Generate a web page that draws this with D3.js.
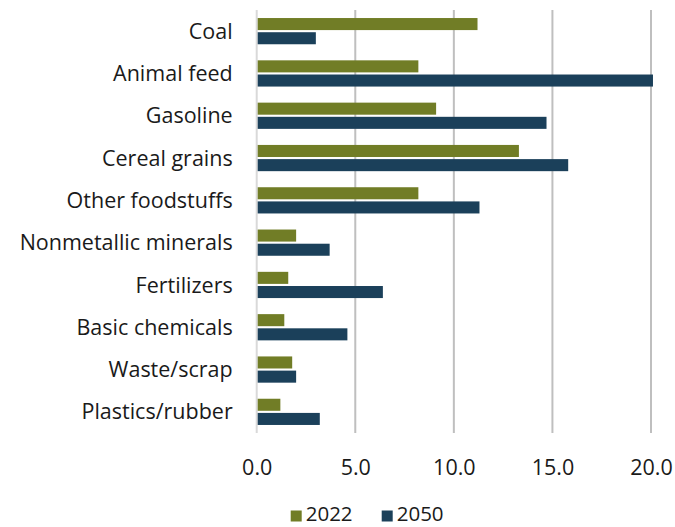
<!DOCTYPE html>
<html><head><meta charset="utf-8">
<script src="https://cdn.jsdelivr.net/npm/d3@7"></script>
<style>body{margin:0;background:#fff}svg{display:block}text{font-family:"Open Sans",sans-serif;fill:#1a1a1a}</style>
</head><body><svg id="c" width="675" height="527"></svg>
<script>
const categories = ["Coal","Animal feed","Gasoline","Cereal grains","Other foodstuffs","Nonmetallic minerals","Fertilizers","Basic chemicals","Waste/scrap","Plastics/rubber"];
const series = ["2022","2050"];
const values2022 = [11.2,8.2,9.1,13.3,8.2,2.0,1.6,1.4,1.8,1.2];
const values2050 = [3.0,20.1,14.7,15.8,11.3,3.7,6.4,4.6,2.0,3.2];
const xTicks = [0,5,10,15,20];
const colors = ["#717d26","#1b405a"];

const svg = d3.select("#c");
const m = {l:256.7, r:24, t:10, b:94};
const W = 675, H = 527;
const x = d3.scaleLinear().domain([0,20]).range([m.l, 651]);
const y = d3.scaleBand().domain(categories).range([m.t, H-m.b]).paddingInner(0.38).paddingOuter(0.19);
const ys = d3.scaleBand().domain(series).range([0, y.bandwidth()]).paddingInner(0.15);

// gridlines
svg.append("g").selectAll("line").data(xTicks.slice(1)).join("line")
  .attr("x1",d=>x(d)).attr("x2",d=>x(d)).attr("y1",m.t).attr("y2",H-m.b)
  .attr("stroke","#bfbfbf").attr("stroke-width",2);
svg.append("line").attr("x1",x(0)).attr("x2",x(0)).attr("y1",m.t).attr("y2",H-m.b)
  .attr("stroke","#d9d9d9").attr("stroke-width",2);

const data = categories.map((c,i)=>({c, v:[values2022[i], values2050[i]]}));
const g = svg.append("g").selectAll("g").data(data).join("g")
  .attr("transform",d=>`translate(0,${y(d.c)})`);
g.selectAll("rect").data(d=>d.v.map((v,j)=>({v,s:series[j],j}))).join("rect")
  .attr("x",x(0)+1).attr("y",d=>ys(d.s)).attr("height",ys.bandwidth())
  .attr("width",d=>x(d.v)-x(0)-1).attr("fill",d=>colors[d.j]);

// category labels
svg.append("g").selectAll("text").data(categories).join("text")
  .attr("x",232.7).attr("y",d=>y(d)+y.bandwidth()/2+7.6)
  .attr("text-anchor","end").attr("font-size",21.5).text(d=>d);

// x axis
const xa = svg.append("g").attr("transform",`translate(0,${H-m.b})`)
  .call(d3.axisBottom(x).tickValues(xTicks).tickFormat(d3.format(".1f")).tickSize(0).tickPadding(0));
xa.select(".domain").remove();
xa.selectAll("text").attr("dy",null).attr("y",42).attr("font-size",21.5).attr("font-family","Open Sans").attr("fill","#1a1a1a");

// legend
const lg = svg.append("g");
const lx = [290.7, 381.7];
series.forEach((s,i)=>{
  lg.append("rect").attr("x",lx[i]).attr("y",510.5).attr("width",11).attr("height",11).attr("fill",colors[i]);
  lg.append("text").attr("x",lx[i]+15).attr("y",521).attr("font-size",20.5).text(s);
});
</script></body></html>
